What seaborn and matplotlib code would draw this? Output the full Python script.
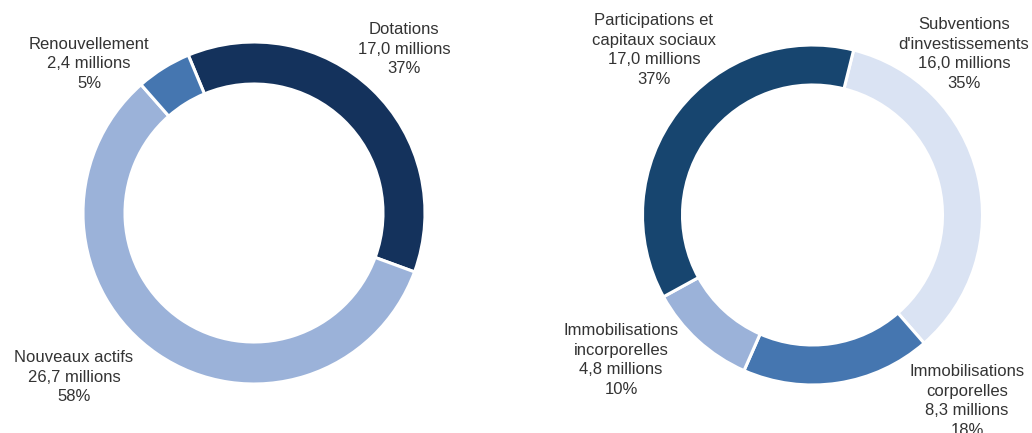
import matplotlib
matplotlib.use("Agg")
import matplotlib.pyplot as plt
import seaborn as sns

# ---- data ----
left_labels = ["Dotations", "Nouveaux actifs", "Renouvellement"]
left_values = [17.0, 26.7, 2.4]
left_colors = ["#14325c", "#9bb2d9", "#4576b0"]

right_labels = ["Subventions\nd'investissements", "Immobilisations\ncorporelles",
                "Immobilisations\nincorporelles", "Participations et\ncapitaux sociaux"]
right_values = [16.0, 8.3, 4.8, 17.0]
right_colors = ["#dae3f3", "#4576b0", "#9bb2d9", "#17456f"]

# ---- layout (pixel space, y up) ----
W, H = 1032, 433
left_center = (254, H - 213)
right_center = (812.5, H - 215)
left_label_pos = [(404, H - 49), (74, H - 377), (89, H - 64)]
right_label_pos = [(964, H - 54), (967, H - 401), (621, H - 360), (654, H - 50)]

sns.set_theme(style="white")
plt.rcParams["font.family"] = ["Liberation Sans", "DejaVu Sans"]

fig = plt.figure(figsize=(W / 100, H / 100), dpi=100)
ax = fig.add_axes([0, 0, 1, 1])


def fmt(v):
    return f"{v:.1f}".replace(".", ",") + " millions"


def donut(values, labels, colors, center, radius, width, startangle, label_pos):
    total = sum(values)
    ax.pie(values, colors=colors, center=center, radius=radius,
           startangle=startangle, counterclock=False,
           wedgeprops=dict(width=width, edgecolor="white", linewidth=2.2))
    for v, lab, (x, y) in zip(values, labels, label_pos):
        pct = round(100 * v / total)
        ax.text(x, y, f"{lab}\n{fmt(v)}\n{pct}%", ha="center", va="center",
                fontsize=12, color="#333333", linespacing=1.37)


donut(left_values, left_labels, left_colors, left_center, 171, 42, 112.6, left_label_pos)
donut(right_values, right_labels, right_colors, right_center, 170, 40, 76, right_label_pos)

ax.set_xlim(0, W)
ax.set_ylim(0, H)
ax.set_aspect("equal")
ax.axis("off")

fig.savefig("out.png", dpi=100)
